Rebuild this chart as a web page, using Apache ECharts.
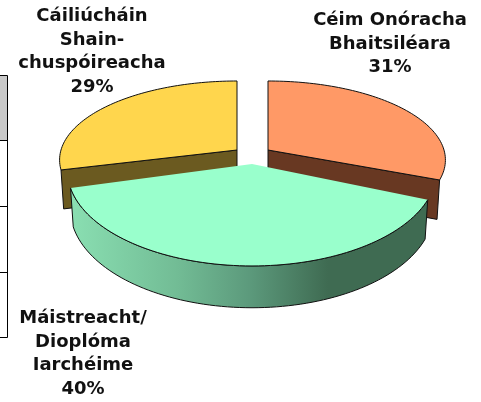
<!DOCTYPE html>
<html>
<head>
<meta charset="utf-8">
<style>
  html, body { margin: 0; padding: 0; background: #fff; }
  #chart { width: 481px; height: 402px; }
</style>
</head>
<body>
<div id="chart"></div>
<script src="https://cdn.jsdelivr.net/npm/echarts@6/dist/echarts.min.js"></script>
<script>
const names = ['Céim Onóracha\nBhaitsiléara', 'Máistreacht/\nDioplóma\nIarchéime', 'Cáiliúcháin\nShain-\nchuspóireacha']
const shares = [31, 40, 29]

const topColors = ['#ff9966', '#99ffcc', '#ffd64d']
const wallColors = ['#683822', null, '#6b5a20']

// one projected disc per slice, the exploded slice sits nearer to the viewer
const discs = [
  { cx: 268, cy: 150, rx: 176, ry: 77.7, k: 0.126, wall: 38 },
  { cx: 252, cy: 164, rx: 184, ry: 94.6, k: 0.072, wall: 38 },
  { cx: 237, cy: 150, rx: 176, ry: 77.7, k: 0.126, wall: 38 }
]
const labelAt = [[390, 44], [83, 354], [92, 52]]

const chart = echarts.init(document.getElementById('chart'))

// angle is clockwise from the top of the pie
function project(d, deg, r, drop) {
  const a = deg * Math.PI / 180
  const u = Math.sin(a) * r
  const v = -Math.cos(a) * r
  const w = 1 - d.k * v
  const squeeze = drop ? 0.985 : 1
  return [d.cx + d.rx * u / w * squeeze, d.cy + d.ry * v / w + drop * (1 + 0.1 * v)]
}

function rim(d, from, to, drop) {
  const pts = []
  const n = 80
  for (let i = 0; i <= n; i++) {
    pts.push(project(d, from + (to - from) * i / n, 1, drop))
  }
  return pts
}

function renderSlice(params, api) {
  const i = params.dataIndex
  const d = discs[i]
  const total = shares.reduce((a, b) => a + b, 0)
  let before = 0
  for (let j = 0; j < i; j++) before += shares[j]
  const from = before / total * 360
  const to = (before + api.value(0)) / total * 360
  const front = i === 1
  const base = front ? 20 : 0
  const line = { stroke: '#111', lineWidth: 1, lineJoin: 'round' }
  const children = []

  if (front) {
    // curved wall of the front slice
    const low = rim(d, from, to, d.wall)
    children.push({
      type: 'polygon',
      z2: base,
      shape: { points: rim(d, from, to, 0).concat(low.reverse()) },
      style: Object.assign({}, line, {
        fill: new echarts.graphic.LinearGradient(0, 0, 1, 0, [
          { offset: 0, color: '#8adfb2' },
          { offset: 0.3, color: '#72bc95' },
          { offset: 0.5, color: '#5c9a7c' },
          { offset: 0.72, color: '#3f6b52' },
          { offset: 1, color: '#3f6b52' }
        ])
      })
    })
    // the cut edges of the front slice carry no outline, only the rim does
    children.push({
      type: 'polygon',
      z2: base + 1,
      shape: { points: [project(d, 0, 0, 0)].concat(rim(d, from, to, 0)) },
      style: { fill: topColors[i] }
    })
    children.push({
      type: 'polyline',
      z2: base + 2,
      shape: { points: rim(d, from, to, 0) },
      style: Object.assign({}, line, { fill: null })
    })
  } else {
    // cut face under the back slices
    const end = i === 0 ? to : from
    const a = project(d, 0, 0, 0)
    const b = project(d, end, 1, 0)
    const c = project(d, end, 1, d.wall)
    const e = project(d, 0, 0, d.wall)
    children.push({
      type: 'polygon',
      z2: base,
      shape: { points: [a, b, c, e] },
      style: Object.assign({}, line, { fill: wallColors[i] })
    })
    children.push({
      type: 'polygon',
      z2: base + 1,
      shape: { points: [project(d, 0, 0, 0)].concat(rim(d, from, to, 0)) },
      style: Object.assign({}, line, { fill: topColors[i] })
    })
  }

  children.push({
    type: 'text',
    z2: 40,
    style: {
      x: labelAt[i][0],
      y: labelAt[i][1],
      text: names[i] + '\n' + api.value(0) + '%',
      font: 'bold 18px "DejaVu Sans"',
      lineHeight: 23.5,
      fill: '#111',
      align: 'center',
      verticalAlign: 'middle'
    }
  })

  return { type: 'group', children: children }
}

chart.setOption({
  animation: false,
  backgroundColor: '#fff',
  graphic: [
    { type: 'rect', shape: { x: 0, y: 76, width: 7, height: 64 }, style: { fill: '#c9c9c9' }, silent: true },
    { type: 'polyline', shape: { points: [[0, 75.5], [7.5, 75.5], [7.5, 337.5], [0, 337.5]] }, style: { stroke: '#000', fill: null, lineWidth: 1 }, silent: true },
    { type: 'line', shape: { x1: 0, y1: 140.5, x2: 7, y2: 140.5 }, style: { stroke: '#000', lineWidth: 1 }, silent: true },
    { type: 'line', shape: { x1: 0, y1: 206.5, x2: 7, y2: 206.5 }, style: { stroke: '#000', lineWidth: 1 }, silent: true },
    { type: 'line', shape: { x1: 0, y1: 272.5, x2: 7, y2: 272.5 }, style: { stroke: '#000', lineWidth: 1 }, silent: true }
  ],
  series: [{
    type: 'custom',
    coordinateSystem: 'none',
    silent: true,
    renderItem: renderSlice,
    data: shares.map(v => [v])
  }]
})
</script>
</body>
</html>
